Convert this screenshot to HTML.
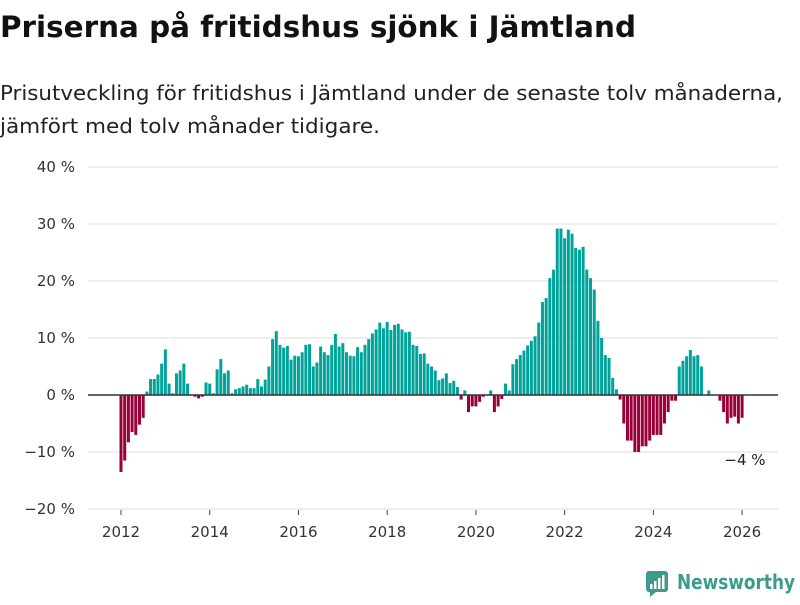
<!DOCTYPE html>
<html><head><meta charset="utf-8">
<style>
body{margin:0;background:#fff;width:800px;height:600px;overflow:hidden;font-family:"Liberation Sans","DejaVu Sans",sans-serif;}
svg text{font-family:"DejaVu Sans","Liberation Sans",sans-serif;}
</style></head>
<body>
<svg id="chart" width="800" height="600">
<text x="0" y="37" font-size="29" font-weight="bold" fill="#111" textLength="636" lengthAdjust="spacingAndGlyphs">Priserna på fritidshus sjönk i Jämtland</text>
<text x="0" y="100" font-size="20" fill="#222" textLength="783" lengthAdjust="spacingAndGlyphs">Prisutveckling för fritidshus i Jämtland under de senaste tolv månaderna,</text>
<text x="0" y="133" font-size="20" fill="#222" textLength="380" lengthAdjust="spacingAndGlyphs">jämfört med tolv månader tidigare.</text>
<g id="grid"></g><g id="bars"></g><g id="axes"></g>
<g>
<rect x="646" y="571" width="22" height="21" rx="3" fill="#3d9b8c"/>
<polygon points="650,592 656,592 650,597" fill="#3d9b8c"/>
<rect x="650" y="584" width="2.5" height="5" fill="#fff"/><rect x="654" y="581" width="2.5" height="8" fill="#fff"/><rect x="658" y="578" width="2.5" height="11" fill="#fff"/><rect x="662" y="575" width="2.5" height="14" fill="#fff"/>
<text x="677" y="589" font-size="20" font-weight="bold" fill="#3d9b8c" textLength="118" lengthAdjust="spacingAndGlyphs">Newsworthy</text>
</g>
</svg>
<script>
const values=[-13.5,-11.5,-8.3,-6.5,-7,-5.2,-4,0.6,2.8,2.8,3.6,5.5,
8,2,0.3,3.8,4.3,5.5,2,0.1,-0.3,-0.6,-0.3,2.2,
2,0.3,4.5,6.3,3.8,4.3,0.3,1,1.2,1.5,1.8,1.2,
1.2,2.8,1.5,2.7,5,9.8,11.2,8.8,8.3,8.6,6.2,6.9,
6.8,7.5,8.8,8.9,5,5.7,8.5,7.5,7,8.8,10.7,8.5,
9.1,7.5,6.9,6.8,8.4,7.5,8.8,9.8,10.8,11.5,12.7,11.7,
12.8,11.4,12.3,12.5,11.5,11,11.1,8.8,8.6,7.2,7.3,5.5,
5,4.3,2.6,2.9,3.8,2.1,2.5,1.4,-0.8,0.8,-3,-2,
-2,-1.2,-0.3,0,0.8,-3,-2,-0.7,2,0.8,5.4,6.3,
7,7.8,8.7,9.5,10.3,12.7,16.3,17,20.5,22,29.2,29.2,
27.5,29,28.3,25.8,25.5,26,22,20.5,18.5,13,10,7,
6.5,3,1,-0.8,-5,-8,-8,-10,-10,-9,-9,-8,
-7,-7,-7,-5,-3,-1,-1,5,6,6.8,7.9,6.8,
7,5,0,0.8,0,0,-1,-3,-5,-4,-3.8,-5,-4];
const startYear=2012;
const yTicks=[40,30,20,10,0,-10,-20];
const xYears=[2012,2014,2016,2018,2020,2022,2024,2026];
const NS="http://www.w3.org/2000/svg";
const y=v=>395-v*5.7;
const xm=m=>121+m*3.697;
function mk(t,a,p){const e=document.createElementNS(NS,t);for(const k in a)e.setAttribute(k,a[k]);p.appendChild(e);return e;}
const grid=document.getElementById('grid'),bars=document.getElementById('bars'),axes=document.getElementById('axes');
yTicks.forEach(v=>{
 if(v!==0){const l=mk('line',{x1:88,x2:778,y1:y(v),y2:y(v),stroke:'#dddddd','stroke-width':1},grid);
 
 }
 const t=mk('text',{x:75,y:y(v)+5,'text-anchor':'end','font-size':15,fill:'#333'},axes);
 t.textContent=(v<0?'\u2212'+(-v):v)+' %';
 
 
});
values.forEach((v,i)=>{
 const r=mk('rect',{x:xm(i)-1.5,y:Math.min(y(v),y(0)),width:3,height:Math.abs(y(v)-y(0)),fill:v>=0?'#00a39a':'#99003a'},bars);
 
 
});
const z=mk('line',{x1:88,x2:778,y1:y(0),y2:y(0),stroke:'#333','stroke-width':1.5},axes);


xYears.forEach(yr=>{
 const x=xm((yr-startYear)*12);
 const tk=mk('line',{x1:x,x2:x,y1:510,y2:515,stroke:'#444','stroke-width':1},axes);
 
 
 const t=mk('text',{x:x,y:537,'text-anchor':'middle','font-size':15,fill:'#333'},axes);
 t.textContent=yr;
 
 
});
const last=values[values.length-1];
const lb=mk('text',{x:745,y:y(last)+47,'text-anchor':'middle','font-size':15,fill:'#222'},axes);
lb.textContent='\u2212'+Math.abs(Math.round(last))+' %';


</script>
</body></html>
